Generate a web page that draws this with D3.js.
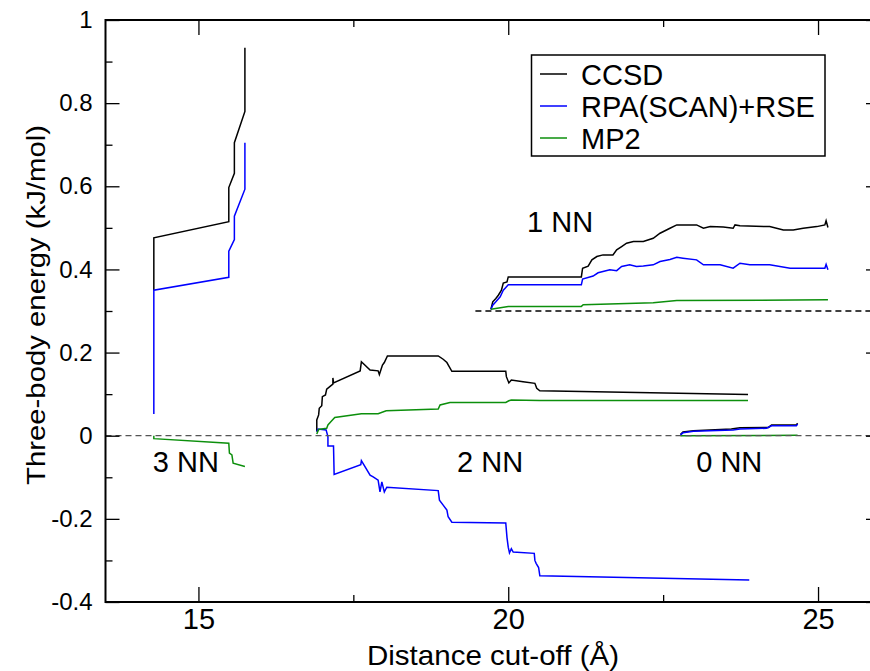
<!DOCTYPE html>
<html>
<head>
<meta charset="utf-8">
<script src="https://cdn.jsdelivr.net/npm/d3@7"></script>
<style>
  html, body { margin: 0; padding: 0; background: #fff; }
  svg { display: block; font-family: "Liberation Sans", Arial, Helvetica, sans-serif; }
</style>
</head>
<body>
<svg id="chart" width="870" height="671"></svg>
<script>
// Three-body energy convergence vs distance cut-off, per nearest-neighbour shell.
// Each series is a list of [cut-off (Å), energy (kJ/mol)] pairs.

// 3 NN shell
const ccsd3NN = [[14.28,0.350],[14.28,0.476],[15.49,0.515],[15.49,0.597],[15.58,0.631],[15.58,0.705],[15.75,0.780],[15.75,0.933]];
const rpa3NN  = [[14.28,0.052],[14.28,0.350],[15.49,0.381],[15.49,0.444],[15.58,0.472],[15.58,0.528],[15.75,0.593],[15.75,0.705]];
const mp23NN  = [[14.28,0.000],[14.28,-0.007],[15.49,-0.018],[15.50,-0.042],[15.54,-0.046],[15.56,-0.066],[15.75,-0.074]];

// 2 NN shell
const ccsd2NN = [[16.91,0.010],[16.91,0.038],[16.94,0.050],[16.95,0.066],[16.99,0.072],[17.00,0.094],[17.05,0.098],
  [17.07,0.112],[17.12,0.118],[17.17,0.124],[17.17,0.139],[17.18,0.127],[17.61,0.156],[17.63,0.178],[17.77,0.158],
  [17.90,0.156],[17.92,0.147],[17.97,0.170],[18.00,0.176],[18.05,0.192],[18.87,0.192],[18.95,0.184],[19.01,0.176],
  [19.04,0.168],[19.09,0.155],[19.96,0.155],[19.97,0.142],[20.01,0.127],[20.05,0.134],[20.24,0.130],[20.43,0.126],
  [20.46,0.114],[20.51,0.108],[23.87,0.099]];
const rpa2NN  = [[16.91,0.010],[16.93,0.016],[17.06,0.014],[17.09,-0.002],[17.09,-0.025],[17.18,-0.025],[17.19,-0.093],
  [17.62,-0.070],[17.63,-0.060],[17.77,-0.095],[17.82,-0.099],[17.90,-0.107],[17.93,-0.135],[17.96,-0.111],[18.00,-0.135],
  [18.04,-0.124],[18.87,-0.132],[18.89,-0.155],[18.95,-0.167],[19.01,-0.179],[19.03,-0.195],[19.09,-0.208],[19.96,-0.210],
  [19.98,-0.245],[20.00,-0.268],[20.02,-0.282],[20.05,-0.272],[20.08,-0.280],[20.42,-0.283],[20.43,-0.300],[20.45,-0.307],
  [20.49,-0.317],[20.51,-0.337],[23.89,-0.347]];
const mp22NN  = [[16.91,0.004],[16.94,0.015],[17.07,0.018],[17.09,0.026],[17.14,0.034],[17.20,0.044],[17.63,0.053],
  [17.90,0.053],[18.03,0.060],[18.87,0.064],[18.90,0.074],[19.06,0.080],[19.96,0.080],[20.01,0.084],[20.05,0.086],
  [20.51,0.085],[23.87,0.085]];

// 1 NN shell, drawn on a 0.3 kJ/mol baseline
const ccsd1NN = [[19.72,0.304],[19.75,0.322],[19.80,0.330],[19.84,0.338],[19.89,0.350],[19.92,0.367],[19.98,0.370],
  [20.00,0.382],[21.18,0.382],[21.20,0.403],[21.29,0.408],[21.35,0.423],[21.43,0.431],[21.53,0.435],[21.69,0.435],
  [21.75,0.447],[21.83,0.455],[21.91,0.463],[22.02,0.467],[22.18,0.467],[22.34,0.475],[22.45,0.487],[22.61,0.499],
  [22.72,0.507],[23.04,0.507],[23.15,0.499],[23.26,0.503],[23.47,0.502],[23.63,0.499],[23.66,0.507],[23.74,0.505],
  [24.22,0.503],[24.44,0.495],[24.60,0.495],[24.76,0.499],[24.98,0.503],[25.11,0.507],[25.13,0.517],[25.16,0.501]];
const rpa1NN  = [[19.72,0.304],[19.75,0.314],[19.80,0.322],[19.87,0.334],[19.92,0.350],[19.95,0.355],[20.00,0.363],
  [21.18,0.363],[21.20,0.377],[21.37,0.384],[21.45,0.392],[21.64,0.399],[21.75,0.397],[21.83,0.407],[21.96,0.411],
  [22.07,0.407],[22.18,0.408],[22.34,0.411],[22.45,0.419],[22.61,0.424],[22.72,0.429],[22.82,0.427],[23.04,0.423],
  [23.15,0.411],[23.42,0.411],[23.63,0.403],[23.74,0.415],[23.90,0.411],[24.22,0.411],[24.55,0.403],[24.76,0.403],
  [25.11,0.403],[25.13,0.412],[25.16,0.399]];
const mp21NN  = [[19.72,0.304],[20.00,0.311],[21.18,0.311],[21.21,0.315],[22.34,0.320],[22.72,0.325],[25.16,0.327]];

// 0 NN shell
const ccsd0NN = [[22.78,0.003],[22.82,0.009],[22.99,0.012],[23.60,0.016],[23.74,0.019],[24.20,0.020],[24.25,0.026],[24.65,0.026],[24.67,0.030]];
const rpa0NN  = [[22.78,0.002],[22.82,0.007],[22.99,0.011],[23.63,0.014],[23.74,0.016],[24.17,0.018],[24.25,0.024],[24.65,0.024],[24.67,0.028]];
const mp20NN  = [[22.78,0.000],[24.67,0.001]];

// Reference baselines: [y, x start]
const baselines = [[0.0, 13.5], [0.3, 19.47]];

// Shell labels: [text, x, y]
const shellLabels = [["3 NN", 14.28, -0.088], ["2 NN", 19.19, -0.088], ["0 NN", 23.05, -0.088], ["1 NN", 20.32, 0.490]];

const seriesNames = ["CCSD", "RPA(SCAN)+RSE", "MP2"];
const seriesColors = ["#000000", "#0000ff", "#0c8f0c"];

const xMajorTicks = [15, 20, 25];
const xMinorTicks = [17.5, 22.5];
const yMajorTicks = [-0.4, -0.2, 0, 0.2, 0.4, 0.6, 0.8, 1];
const yMinorTicks = [-0.3, -0.1, 0.1, 0.3, 0.5, 0.7, 0.9];
const yTickLabels = ["-0.4", "-0.2", "0", "0.2", "0.4", "0.6", "0.8", "1"];

const svg = d3.select("#chart");
const plotL = 105.5, plotR = 880, plotT = 20, plotB = 602;

const x = d3.scaleLinear().domain([13.5, 26]).range([plotL, plotR]);
const y = d3.scaleLinear().domain([-0.4, 1]).range([plotB, plotT]);

const plot = svg.append("g");
const line = d3.line().x(d => x(d[0])).y(d => y(d[1]));

const groups = [
  [ccsd3NN, ccsd2NN, ccsd1NN, ccsd0NN],
  [rpa3NN, rpa2NN, rpa1NN, rpa0NN],
  [mp23NN, mp22NN, mp21NN, mp20NN]
];
groups.forEach((sets, i) => {
  sets.forEach(s => {
    plot.append("path")
      .attr("d", line(s))
      .attr("fill", "none")
      .attr("stroke", seriesColors[i])
      .attr("stroke-width", 1.5)
      .attr("stroke-linejoin", "miter");
  });
});

// Dashed reference baselines
baselines.forEach(([v, x0], i) => {
  plot.append("line")
    .attr("x1", x(x0)).attr("x2", x(26))
    .attr("y1", y(v)).attr("y2", y(v))
    .attr("stroke", i === 0 ? "#555" : "#000")
    .attr("stroke-width", 1.3)
    .attr("stroke-dasharray", "6,4");
});

// Frame
svg.append("rect")
  .attr("x", plotL).attr("y", plotT)
  .attr("width", plotR - plotL).attr("height", plotB - plotT)
  .attr("fill", "none").attr("stroke", "#000").attr("stroke-width", 2);

const fontFam = "Liberation Sans, Arial, sans-serif";
const noDomain = g => g.select(".domain").remove();

// Axes with inward ticks on all four sides
const gx = svg.append("g").attr("transform", `translate(0,${plotB})`)
  .call(d3.axisBottom(x).tickValues(xMajorTicks).tickSize(-15).tickFormat(d3.format("d")).tickPadding(6));
gx.call(noDomain);
gx.selectAll("text").attr("font-size", 29).attr("font-family", fontFam).attr("fill", "#000");
gx.selectAll("line").attr("stroke-width", 1.3);
svg.append("g").attr("transform", `translate(0,${plotB})`)
  .call(d3.axisBottom(x).tickValues(xMinorTicks).tickSize(-7).tickFormat(""))
  .call(noDomain).selectAll("line").attr("stroke-width", 1.3);
svg.append("g").attr("transform", `translate(0,${plotT})`)
  .call(d3.axisTop(x).tickValues(xMajorTicks).tickSize(-15).tickFormat(""))
  .call(noDomain).selectAll("line").attr("stroke-width", 1.3);
svg.append("g").attr("transform", `translate(0,${plotT})`)
  .call(d3.axisTop(x).tickValues(xMinorTicks).tickSize(-7).tickFormat(""))
  .call(noDomain).selectAll("line").attr("stroke-width", 1.3);

const gy = svg.append("g").attr("transform", `translate(${plotL},0)`)
  .call(d3.axisLeft(y).tickValues(yMajorTicks).tickSize(-14).tickPadding(13)
    .tickFormat((d, i) => yTickLabels[i]));
gy.call(noDomain);
gy.selectAll("text").attr("font-size", 24).attr("font-family", fontFam).attr("fill", "#000");
gy.selectAll("line").attr("stroke-width", 1.3);
svg.append("g").attr("transform", `translate(${plotL},0)`)
  .call(d3.axisLeft(y).tickValues(yMinorTicks).tickSize(-7).tickFormat(""))
  .call(noDomain).selectAll("line").attr("stroke-width", 1.3);
svg.append("g").attr("transform", `translate(${plotR},0)`)
  .call(d3.axisRight(y).tickValues(yMajorTicks).tickSize(-14).tickFormat(""))
  .call(noDomain).selectAll("line").attr("stroke-width", 1.3);
svg.append("g").attr("transform", `translate(${plotR},0)`)
  .call(d3.axisRight(y).tickValues(yMinorTicks).tickSize(-7).tickFormat(""))
  .call(noDomain).selectAll("line").attr("stroke-width", 1.3);

// Axis titles
svg.append("text")
  .attr("x", 493).attr("y", 665)
  .attr("text-anchor", "middle")
  .attr("font-size", 28)
  .attr("textLength", 252).attr("lengthAdjust", "spacingAndGlyphs")
  .text("Distance cut-off (Å)");
svg.append("text")
  .attr("transform", "translate(45,305) rotate(-90)")
  .attr("text-anchor", "middle")
  .attr("font-size", 26)
  .attr("textLength", 360).attr("lengthAdjust", "spacingAndGlyphs")
  .text("Three-body energy (kJ/mol)");

// Shell labels
shellLabels.forEach(([t, lx, ly]) => {
  svg.append("text")
    .attr("x", x(lx) - 1).attr("y", y(ly))
    .attr("font-size", 29)
    .text(t);
});

// Legend
const legend = svg.append("g");
legend.append("rect")
  .attr("x", 531.5).attr("y", 55).attr("width", 293.5).attr("height", 101)
  .attr("fill", "#fff").attr("stroke", "#000").attr("stroke-width", 1.5);
seriesNames.forEach((name, i) => {
  const cy = 74 + i * 32;
  legend.append("line")
    .attr("x1", 540).attr("x2", 567).attr("y1", cy).attr("y2", cy)
    .attr("stroke", seriesColors[i]).attr("stroke-width", 1.5);
  legend.append("text")
    .attr("x", 581).attr("y", cy + 10.5)
    .attr("font-size", 29)
    .text(name);
});
</script>
</body>
</html>
